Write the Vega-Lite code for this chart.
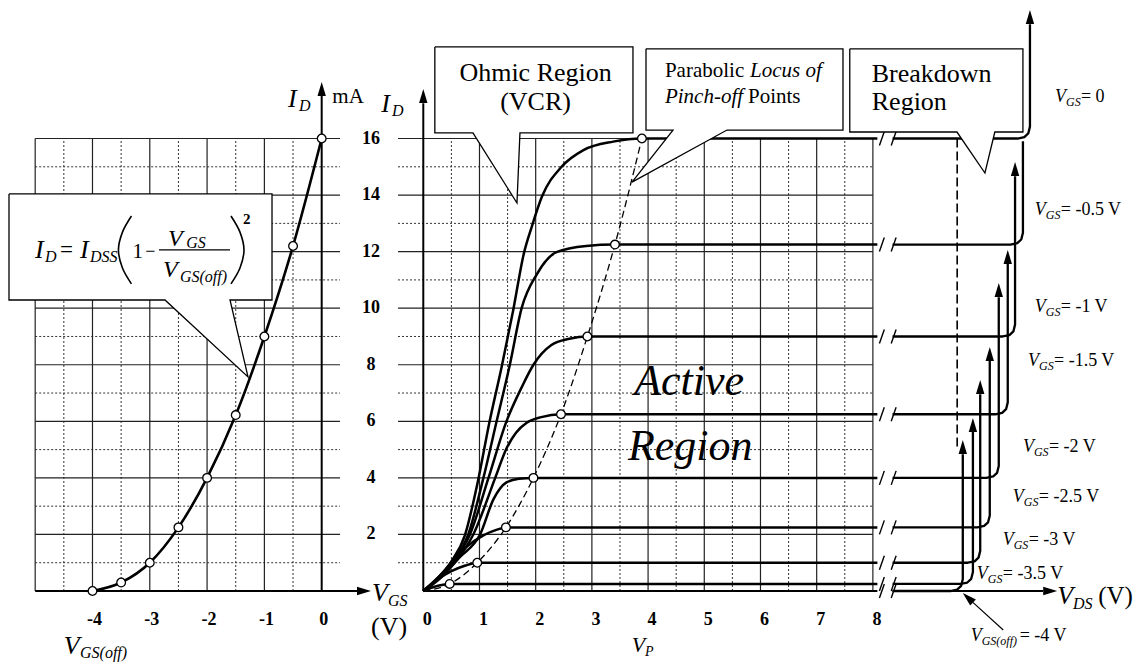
{
"$schema":"https://vega.github.io/schema/vega-lite/v6.json",
"width":1136,"height":664,"autosize":{"type":"none"},"padding":0,"background":"white",
"config":{"view":{"stroke":null},"text":{"font":"Liberation Serif","color":"#000"}},
"datasets":{
"lgvMinor":[{"v":-4.5},{"v":-3.5},{"v":-2.5},{"v":-1.5},{"v":-0.5}],
"lgvMajor":[{"v":-5},{"v":-4},{"v":-3},{"v":-2},{"v":-1}],
"ghMinor":[{"v":1},{"v":3},{"v":5},{"v":7},{"v":9},{"v":11},{"v":13},{"v":15}],
"ghMajor":[{"v":2},{"v":4},{"v":6},{"v":8},{"v":10},{"v":12},{"v":14},{"v":16}],
"rgvMinor":[{"v":0.5},{"v":1.5},{"v":2.5},{"v":3.5},{"v":4.5},{"v":5.5},{"v":6.5},{"v":7.5}],
"rgvMajor":[{"v":1},{"v":2},{"v":3},{"v":4},{"v":5},{"v":6},{"v":7},{"v":8}],
"lTicks":[{"vgs":-4,"t":"-4"},{"vgs":-3,"t":"-3"},{"vgs":-2,"t":"-2"},{"vgs":-1,"t":"-1"},{"vgs":0,"t":"0"}],
"rTicks":[{"vds":0,"t":"0"},{"vds":1,"t":"1"},{"vds":2,"t":"2"},{"vds":3,"t":"3"},{"vds":4,"t":"4"},{"vds":5,"t":"5"},{"vds":6,"t":"6"},{"vds":7,"t":"7"},{"vds":8,"t":"8"}],
"yTicks":[{"id":2,"t":"2"},{"id":4,"t":"4"},{"id":6,"t":"6"},{"id":8,"t":"8"},{"id":10,"t":"10"},{"id":12,"t":"12"},{"id":14,"t":"14"},{"id":16,"t":"16"}],
"transfer":[{"vgs":-4,"id":0},{"vgs":-3.5,"id":0.3},{"vgs":-3,"id":1},{"vgs":-2.5,"id":2.25},{"vgs":-2,"id":4},{"vgs":-1.5,"id":6.22},{"vgs":-1,"id":9},{"vgs":-0.5,"id":12.2},{"vgs":0,"id":16}],
"lcall":[{"o":1,"vgs":-5.457,"id":14.04},{"o":2,"vgs":-0.867,"id":14.04},{"o":3,"vgs":-0.867,"id":10.29},{"o":4,"vgs":-1.6,"id":10.29},{"o":5,"vgs":-1.286,"id":7.57},{"o":6,"vgs":-2.735,"id":10.29},{"o":7,"vgs":-5.457,"id":10.29},{"o":8,"vgs":-5.457,"id":14.04}],
"laxis":[{"vgs":-5,"vgs2":0.616,"id":0,"id2":0},{"vgs":0,"vgs2":0,"id":0,"id2":17.5}],
"parens":[{"p":"L","o":1,"vgs":-3.32,"id":13.26},{"p":"L","o":2,"vgs":-3.477,"id":12.69},{"p":"L","o":3,"vgs":-3.547,"id":12.06},{"p":"L","o":4,"vgs":-3.477,"id":11.42},{"p":"L","o":5,"vgs":-3.32,"id":10.86},{"p":"R","o":1,"vgs":-1.583,"id":13.26},{"p":"R","o":2,"vgs":-1.426,"id":12.69},{"p":"R","o":3,"vgs":-1.356,"id":12.06},{"p":"R","o":4,"vgs":-1.426,"id":11.42},{"p":"R","o":5,"vgs":-1.583,"id":10.86}],
"drain":[
{"g":"0","vds":0,"id":0},{"g":"0","vds":0.25,"id":0.45},{"g":"0","vds":0.5,"id":1.05},{"g":"0","vds":0.74,"id":1.97},{"g":"0","vds":0.98,"id":3.96},{"g":"0","vds":1.175,"id":5.95},{"g":"0","vds":1.395,"id":7.93},{"g":"0","vds":1.6,"id":9.93},{"g":"0","vds":1.79,"id":11.94},{"g":"0","vds":1.93,"id":12.88},{"g":"0","vds":2.11,"id":13.94},{"g":"0","vds":2.46,"id":15.0},{"g":"0","vds":2.85,"id":15.59},{"g":"0","vds":3.38,"id":15.89},{"g":"0","vds":3.89,"id":16},{"g":"0","vds":8.08,"id":16},
{"g":"-0.5","vds":0,"id":0},{"g":"-0.5","vds":0.25,"id":0.42},{"g":"-0.5","vds":0.5,"id":1.0},{"g":"-0.5","vds":0.8,"id":2},{"g":"-0.5","vds":1.07,"id":4},{"g":"-0.5","vds":1.305,"id":6},{"g":"-0.5","vds":1.54,"id":8},{"g":"-0.5","vds":1.75,"id":10},{"g":"-0.5","vds":2.02,"id":11.2},{"g":"-0.5","vds":2.37,"id":11.98},{"g":"-0.5","vds":2.9,"id":12.2},{"g":"-0.5","vds":3.41,"id":12.25},{"g":"-0.5","vds":8.08,"id":12.25},
{"g":"-1","vds":0,"id":0},{"g":"-1","vds":0.25,"id":0.4},{"g":"-1","vds":0.5,"id":0.95},{"g":"-1","vds":0.83,"id":2},{"g":"-1","vds":1.16,"id":4},{"g":"-1","vds":1.48,"id":6},{"g":"-1","vds":1.75,"id":7.2},{"g":"-1","vds":1.96,"id":8.0},{"g":"-1","vds":2.28,"id":8.7},{"g":"-1","vds":2.6,"id":8.92},{"g":"-1","vds":2.92,"id":9},{"g":"-1","vds":8.08,"id":9},
{"g":"-1.5","vds":0,"id":0},{"g":"-1.5","vds":0.3,"id":0.45},{"g":"-1.5","vds":0.6,"id":1.1},{"g":"-1.5","vds":0.89,"id":2},{"g":"-1.5","vds":1.28,"id":4},{"g":"-1.5","vds":1.48,"id":5.04},{"g":"-1.5","vds":1.65,"id":5.6},{"g":"-1.5","vds":1.84,"id":5.95},{"g":"-1.5","vds":2.1,"id":6.15},{"g":"-1.5","vds":2.45,"id":6.25},{"g":"-1.5","vds":8.08,"id":6.25},
{"g":"-2","vds":0,"id":0},{"g":"-2","vds":0.3,"id":0.5},{"g":"-2","vds":0.65,"id":1.2},{"g":"-2","vds":1.01,"id":2},{"g":"-2","vds":1.25,"id":3.25},{"g":"-2","vds":1.48,"id":3.84},{"g":"-2","vds":1.7,"id":3.97},{"g":"-2","vds":1.96,"id":4},{"g":"-2","vds":8.08,"id":4},
{"g":"-2.5","vds":0,"id":0},{"g":"-2.5","vds":0.3,"id":0.55},{"g":"-2.5","vds":0.55,"id":1.1},{"g":"-2.5","vds":0.77,"id":1.56},{"g":"-2.5","vds":1.07,"id":1.97},{"g":"-2.5","vds":1.3,"id":2.16},{"g":"-2.5","vds":1.47,"id":2.25},{"g":"-2.5","vds":8.08,"id":2.25},
{"g":"-3","vds":0,"id":0},{"g":"-3","vds":0.25,"id":0.4},{"g":"-3","vds":0.5,"id":0.7},{"g":"-3","vds":0.75,"id":0.9},{"g":"-3","vds":0.96,"id":1},{"g":"-3","vds":8.08,"id":1},
{"g":"-3.5","vds":0,"id":0},{"g":"-3.5","vds":0.2,"id":0.15},{"g":"-3.5","vds":0.47,"id":0.25},{"g":"-3.5","vds":8.08,"id":0.25}],
"bkd":[
{"g":"0","o":1,"vds":8.35,"id":16},{"g":"0","o":2,"vds":10.575,"id":16},{"g":"0","o":3,"vds":10.695,"id":16.05},{"g":"0","o":4,"vds":10.765,"id":16.18},{"g":"0","o":5,"vds":10.795,"id":16.42},{"g":"0","o":6,"vds":10.795,"id":20.04},
{"g":"-0.5","o":1,"vds":8.35,"id":12.25},{"g":"-0.5","o":2,"vds":10.45,"id":12.25},{"g":"-0.5","o":3,"vds":10.57,"id":12.3},{"g":"-0.5","o":4,"vds":10.64,"id":12.43},{"g":"-0.5","o":5,"vds":10.67,"id":12.67},{"g":"-0.5","o":6,"vds":10.67,"id":15.9},
{"g":"-1","o":1,"vds":8.35,"id":9},{"g":"-1","o":2,"vds":10.31,"id":9},{"g":"-1","o":3,"vds":10.43,"id":9.05},{"g":"-1","o":4,"vds":10.5,"id":9.18},{"g":"-1","o":5,"vds":10.53,"id":9.42},{"g":"-1","o":6,"vds":10.53,"id":14.67},
{"g":"-1.5","o":1,"vds":8.35,"id":6.25},{"g":"-1.5","o":2,"vds":10.18,"id":6.25},{"g":"-1.5","o":3,"vds":10.3,"id":6.3},{"g":"-1.5","o":4,"vds":10.37,"id":6.43},{"g":"-1.5","o":5,"vds":10.4,"id":6.67},{"g":"-1.5","o":6,"vds":10.4,"id":11.56},
{"g":"-2","o":1,"vds":8.35,"id":4},{"g":"-2","o":2,"vds":10.02,"id":4},{"g":"-2","o":3,"vds":10.14,"id":4.05},{"g":"-2","o":4,"vds":10.21,"id":4.18},{"g":"-2","o":5,"vds":10.24,"id":4.42},{"g":"-2","o":6,"vds":10.24,"id":10.39},
{"g":"-2.5","o":1,"vds":8.35,"id":2.25},{"g":"-2.5","o":2,"vds":9.86,"id":2.25},{"g":"-2.5","o":3,"vds":9.98,"id":2.3},{"g":"-2.5","o":4,"vds":10.05,"id":2.43},{"g":"-2.5","o":5,"vds":10.08,"id":2.67},{"g":"-2.5","o":6,"vds":10.08,"id":8.13},
{"g":"-3","o":1,"vds":8.35,"id":1},{"g":"-3","o":2,"vds":9.69,"id":1},{"g":"-3","o":3,"vds":9.81,"id":1.05},{"g":"-3","o":4,"vds":9.88,"id":1.18},{"g":"-3","o":5,"vds":9.91,"id":1.42},{"g":"-3","o":6,"vds":9.91,"id":6.96},
{"g":"-3.5","o":1,"vds":8.35,"id":0.25},{"g":"-3.5","o":2,"vds":9.56,"id":0.25},{"g":"-3.5","o":3,"vds":9.68,"id":0.3},{"g":"-3.5","o":4,"vds":9.75,"id":0.43},{"g":"-3.5","o":5,"vds":9.78,"id":0.67},{"g":"-3.5","o":6,"vds":9.78,"id":5.62},
{"g":"-4","o":1,"vds":8.35,"id":0},{"g":"-4","o":2,"vds":9.38,"id":0},{"g":"-4","o":3,"vds":9.5,"id":0.05},{"g":"-4","o":4,"vds":9.57,"id":0.18},{"g":"-4","o":5,"vds":9.6,"id":0.42},{"g":"-4","o":6,"vds":9.6,"id":4.84}],
"rArrUp":[{"vds":10.795,"id":20.54},{"vds":10.53,"id":15.17},{"vds":10.4,"id":12.06},{"vds":10.24,"id":10.89},{"vds":10.08,"id":8.63},{"vds":9.91,"id":7.46},{"vds":9.78,"id":6.12},{"vds":9.6,"id":5.34},{"vds":0,"id":17.75}],
"pinch":[{"vds":0.47,"id":0.25},{"vds":0.96,"id":1},{"vds":1.47,"id":2.25},{"vds":1.96,"id":4},{"vds":2.45,"id":6.25},{"vds":2.92,"id":9},{"vds":3.41,"id":12.25},{"vds":3.89,"id":16}],
"locus":[{"vds":0,"id":0},{"vds":0.47,"id":0.25},{"vds":0.96,"id":1},{"vds":1.47,"id":2.25},{"vds":1.96,"id":4},{"vds":2.45,"id":6.25},{"vds":2.92,"id":9},{"vds":3.41,"id":12.25},{"vds":3.89,"id":16}],
"levels":[{"id":16},{"id":12.25},{"id":9},{"id":6.25},{"id":4},{"id":2.25},{"id":1},{"id":0.25},{"id":0}],
"rcall":[
{"b":"ohm","o":1,"vds":0.2055,"id":19.24},{"b":"ohm","o":2,"vds":3.731,"id":19.24},{"b":"ohm","o":3,"vds":3.731,"id":16.2},{"b":"ohm","o":4,"vds":1.72,"id":16.2},{"b":"ohm","o":5,"vds":1.667,"id":13.72},{"b":"ohm","o":6,"vds":0.884,"id":16.2},{"b":"ohm","o":7,"vds":0.2055,"id":16.2},{"b":"ohm","o":8,"vds":0.2055,"id":19.24},
{"b":"par","o":1,"vds":3.963,"id":19.17},{"b":"par","o":2,"vds":7.468,"id":19.17},{"b":"par","o":3,"vds":7.468,"id":16.3},{"b":"par","o":4,"vds":5.404,"id":16.3},{"b":"par","o":5,"vds":3.714,"id":14.46},{"b":"par","o":6,"vds":4.443,"id":16.3},{"b":"par","o":7,"vds":3.963,"id":16.3},{"b":"par","o":8,"vds":3.963,"id":19.17},
{"b":"brk","o":1,"vds":7.589,"id":19.17},{"b":"brk","o":2,"vds":10.67,"id":19.17},{"b":"brk","o":3,"vds":10.67,"id":16.23},{"b":"brk","o":4,"vds":10.17,"id":16.23},{"b":"brk","o":5,"vds":9.994,"id":14.78},{"b":"brk","o":6,"vds":9.496,"id":16.23},{"b":"brk","o":7,"vds":7.589,"id":16.23},{"b":"brk","o":8,"vds":7.589,"id":19.17}],
"rlab":[{"vds":11.24,"id":17.29,"t":"= 0"},{"vds":10.88,"id":13.3,"t":"= -0.5 V"},{"vds":10.88,"id":9.87,"t":"= -1 V"},{"vds":10.76,"id":7.96,"t":"= -1.5 V"},{"vds":10.67,"id":4.92,"t":"= -2 V"},{"vds":10.49,"id":3.15,"t":"= -2.5 V"},{"vds":10.31,"id":1.63,"t":"= -3 V"},{"vds":9.85,"id":0.42,"t":"= -3.5 V"}],
"rlabOff":[{"vds":9.74,"id":-1.77,"t":"= -4 V"}]
},
"layer":[
{"layer":[
{"data":{"name":"lgvMinor"},"mark":{"type":"rule","strokeDash":[2,2],"strokeWidth":1,"color":"#333"},
 "encoding":{"x":{"field":"v","type":"quantitative","scale":{"domain":[-5.614,14.211],"nice":false,"zero":false},"axis":null},
  "y":{"datum":0,"type":"quantitative","scale":{"domain":[-2.581,20.898],"nice":false,"zero":false},"axis":null},"y2":{"datum":16}}},
{"data":{"name":"ghMinor"},"mark":{"type":"rule","strokeDash":[2,2],"strokeWidth":1,"color":"#333"},
 "encoding":{"y":{"field":"v","type":"quantitative","scale":{"domain":[-2.581,20.898],"nice":false,"zero":false},"axis":null},
  "x":{"datum":-5,"type":"quantitative","scale":{"domain":[-5.614,14.211],"nice":false,"zero":false},"axis":null},"x2":{"datum":0.32}}},
{"data":{"name":"lgvMajor"},"mark":{"type":"rule","strokeWidth":1.2,"color":"#222"},
 "encoding":{"x":{"field":"v","type":"quantitative","scale":{"domain":[-5.614,14.211],"nice":false,"zero":false},"axis":null},
  "y":{"datum":0,"type":"quantitative","scale":{"domain":[-2.581,20.898],"nice":false,"zero":false},"axis":null},"y2":{"datum":16}}},
{"data":{"name":"ghMajor"},"mark":{"type":"rule","strokeWidth":1.2,"color":"#222"},
 "encoding":{"y":{"field":"v","type":"quantitative","scale":{"domain":[-2.581,20.898],"nice":false,"zero":false},"axis":null},
  "x":{"datum":-5,"type":"quantitative","scale":{"domain":[-5.614,14.211],"nice":false,"zero":false},"axis":null},"x2":{"datum":0.32}}},
{"data":{"name":"laxis"},"mark":{"type":"rule","strokeWidth":2,"color":"#000"},
 "encoding":{"x":{"field":"vgs","type":"quantitative","scale":{"domain":[-5.614,14.211],"nice":false,"zero":false},"axis":null},"x2":{"field":"vgs2"},
  "y":{"field":"id","type":"quantitative","scale":{"domain":[-2.581,20.898],"nice":false,"zero":false},"axis":null},"y2":{"field":"id2"}}},
{"data":{"name":"transfer"},"mark":{"type":"line","interpolate":"monotone","strokeWidth":2.6,"color":"#000"},
 "encoding":{"x":{"field":"vgs","type":"quantitative","scale":{"domain":[-5.614,14.211],"nice":false,"zero":false},"axis":null},
  "y":{"field":"id","type":"quantitative","scale":{"domain":[-2.581,20.898],"nice":false,"zero":false},"axis":null}}},
{"data":{"name":"transfer"},"mark":{"type":"point","shape":"circle","filled":true,"fill":"white","stroke":"#000","strokeWidth":1.3,"size":75,"opacity":1},
 "encoding":{"x":{"field":"vgs","type":"quantitative","scale":{"domain":[-5.614,14.211],"nice":false,"zero":false},"axis":null},
  "y":{"field":"id","type":"quantitative","scale":{"domain":[-2.581,20.898],"nice":false,"zero":false},"axis":null}}},
{"data":{"name":"lcall"},"mark":{"type":"line","fill":"white","stroke":"#000","strokeWidth":1.3,"strokeJoin":"miter"},
 "encoding":{"x":{"field":"vgs","type":"quantitative","scale":{"domain":[-5.614,14.211],"nice":false,"zero":false},"axis":null},
  "y":{"field":"id","type":"quantitative","scale":{"domain":[-2.581,20.898],"nice":false,"zero":false},"axis":null},"order":{"field":"o"}}},
{"data":{"values":[{"vgs":0,"id":18.0}]},"mark":{"type":"point","shape":"M0,0L0.6,2L-0.6,2Z","filled":true,"color":"#000","size":196,"opacity":1},
 "encoding":{"x":{"field":"vgs","type":"quantitative","scale":{"domain":[-5.614,14.211],"nice":false,"zero":false},"axis":null},
  "y":{"field":"id","type":"quantitative","scale":{"domain":[-2.581,20.898],"nice":false,"zero":false},"axis":null}}},
{"data":{"values":[{"vgs":0.86,"id":0}]},"mark":{"type":"point","shape":"M0,0L-2,-0.6L-2,0.6Z","filled":true,"color":"#000","size":196,"opacity":1},
 "encoding":{"x":{"field":"vgs","type":"quantitative","scale":{"domain":[-5.614,14.211],"nice":false,"zero":false},"axis":null},
  "y":{"field":"id","type":"quantitative","scale":{"domain":[-2.581,20.898],"nice":false,"zero":false},"axis":null}}},
{"data":{"name":"parens"},"mark":{"type":"line","interpolate":"cardinal","strokeWidth":1.6,"color":"#000"},
 "encoding":{"x":{"field":"vgs","type":"quantitative","scale":{"domain":[-5.614,14.211],"nice":false,"zero":false},"axis":null},
  "y":{"field":"id","type":"quantitative","scale":{"domain":[-2.581,20.898],"nice":false,"zero":false},"axis":null},"order":{"field":"o"},"detail":{"field":"p"}}},
{"data":{"values":[{"vgs":-2.84,"vgs2":-1.6,"id":12.06}]},"mark":{"type":"rule","strokeWidth":1.3,"color":"#000"},
 "encoding":{"x":{"field":"vgs","type":"quantitative","scale":{"domain":[-5.614,14.211],"nice":false,"zero":false},"axis":null},"x2":{"field":"vgs2"},
  "y":{"field":"id","type":"quantitative","scale":{"domain":[-2.581,20.898],"nice":false,"zero":false},"axis":null}}},
{"data":{"name":"lTicks"},"mark":{"type":"text","font":"Liberation Serif","fontSize":18,"fontWeight":"bold","align":"center","baseline":"middle","color":"#000","dx":2},
 "encoding":{"x":{"field":"vgs","type":"quantitative","scale":{"domain":[-5.614,14.211],"nice":false,"zero":false},"axis":null},
  "y":{"datum":-1.025,"type":"quantitative","scale":{"domain":[-2.581,20.898],"nice":false,"zero":false},"axis":null},"text":{"field":"t"}}},
{"data":{"values":[{"vgs":-5.004,"id":11.775,"t":"I"},{"vgs":-4.218,"id":11.775,"t":"I"},{"vgs":0.88,"id":-0.35,"t":"V"},{"vgs":-4.5,"id":-2.23,"t":"V"},{"vgs":-0.59,"id":17.11,"t":"I"}]},
 "mark":{"type":"text","font":"Liberation Serif","fontSize":26,"fontStyle":"italic","align":"left","baseline":"alphabetic","color":"#000"},
 "encoding":{"x":{"field":"vgs","type":"quantitative","scale":{"domain":[-5.614,14.211],"nice":false,"zero":false},"axis":null},
  "y":{"field":"id","type":"quantitative","scale":{"domain":[-2.581,20.898],"nice":false,"zero":false},"axis":null},"text":{"field":"t"}}},
{"data":{"values":[{"vgs":-2.682,"id":12.2,"t":"V"},{"vgs":-2.77,"id":11.1,"t":"V"}]},
 "mark":{"type":"text","font":"Liberation Serif","fontSize":24,"fontStyle":"italic","align":"left","baseline":"alphabetic","color":"#000"},
 "encoding":{"x":{"field":"vgs","type":"quantitative","scale":{"domain":[-5.614,14.211],"nice":false,"zero":false},"axis":null},
  "y":{"field":"id","type":"quantitative","scale":{"domain":[-2.581,20.898],"nice":false,"zero":false},"axis":null},"text":{"field":"t"}}},
{"data":{"values":[{"vgs":-4.83,"id":11.63,"t":"D"},{"vgs":-4.044,"id":11.63,"t":"DSS"},{"vgs":-2.365,"id":12.13,"t":"GS"},{"vgs":-2.473,"id":10.93,"t":"GS(off)"},{"vgs":1.157,"id":-0.527,"t":"GS"},{"vgs":-4.218,"id":-2.37,"t":"GS(off)"},{"vgs":-0.396,"id":16.97,"t":"D"}]},
 "mark":{"type":"text","font":"Liberation Serif","fontSize":16,"fontStyle":"italic","align":"left","baseline":"alphabetic","color":"#000"},
 "encoding":{"x":{"field":"vgs","type":"quantitative","scale":{"domain":[-5.614,14.211],"nice":false,"zero":false},"axis":null},
  "y":{"field":"id","type":"quantitative","scale":{"domain":[-2.581,20.898],"nice":false,"zero":false},"axis":null},"text":{"field":"t"}}},
{"data":{"values":[{"vgs":-4.567,"id":11.81,"t":"="}]},
 "mark":{"type":"text","font":"Liberation Serif","fontSize":23,"align":"left","baseline":"alphabetic","color":"#000"},
 "encoding":{"x":{"field":"vgs","type":"quantitative","scale":{"domain":[-5.614,14.211],"nice":false,"zero":false},"axis":null},
  "y":{"field":"id","type":"quantitative","scale":{"domain":[-2.581,20.898],"nice":false,"zero":false},"axis":null},"text":{"field":"t"}}},
{"data":{"values":[{"vgs":-3.3,"id":11.775,"t":"1"}]},
 "mark":{"type":"text","font":"Liberation Serif","fontSize":21,"align":"left","baseline":"alphabetic","color":"#000"},
 "encoding":{"x":{"field":"vgs","type":"quantitative","scale":{"domain":[-5.614,14.211],"nice":false,"zero":false},"axis":null},
  "y":{"field":"id","type":"quantitative","scale":{"domain":[-2.581,20.898],"nice":false,"zero":false},"axis":null},"text":{"field":"t"}}},
{"data":{"values":[{"vgs":-3.08,"id":11.82,"t":"−"}]},
 "mark":{"type":"text","font":"Liberation Serif","fontSize":18,"align":"left","baseline":"alphabetic","color":"#000"},
 "encoding":{"x":{"field":"vgs","type":"quantitative","scale":{"domain":[-5.614,14.211],"nice":false,"zero":false},"axis":null},
  "y":{"field":"id","type":"quantitative","scale":{"domain":[-2.581,20.898],"nice":false,"zero":false},"axis":null},"text":{"field":"t"}}},
{"data":{"values":[{"vgs":-1.374,"id":12.98,"t":"2"}]},
 "mark":{"type":"text","font":"Liberation Serif","fontSize":15,"fontWeight":"bold","align":"left","baseline":"alphabetic","color":"#000"},
 "encoding":{"x":{"field":"vgs","type":"quantitative","scale":{"domain":[-5.614,14.211],"nice":false,"zero":false},"axis":null},
  "y":{"field":"id","type":"quantitative","scale":{"domain":[-2.581,20.898],"nice":false,"zero":false},"axis":null},"text":{"field":"t"}}},
{"data":{"values":[{"vgs":1.175,"id":-1.56,"t":"(V)"}]},
 "mark":{"type":"text","font":"Liberation Serif","fontSize":26,"align":"center","baseline":"alphabetic","color":"#000"},
 "encoding":{"x":{"field":"vgs","type":"quantitative","scale":{"domain":[-5.614,14.211],"nice":false,"zero":false},"axis":null},
  "y":{"field":"id","type":"quantitative","scale":{"domain":[-2.581,20.898],"nice":false,"zero":false},"axis":null},"text":{"field":"t"}}},
{"data":{"values":[{"vgs":0.185,"id":17.26,"t":"mA"}]},
 "mark":{"type":"text","font":"Liberation Serif","fontSize":21,"align":"left","baseline":"alphabetic","color":"#000"},
 "encoding":{"x":{"field":"vgs","type":"quantitative","scale":{"domain":[-5.614,14.211],"nice":false,"zero":false},"axis":null},
  "y":{"field":"id","type":"quantitative","scale":{"domain":[-2.581,20.898],"nice":false,"zero":false},"axis":null},"text":{"field":"t"}}}
]},
{"layer":[
{"data":{"name":"rgvMinor"},"mark":{"type":"rule","strokeDash":[2,2],"strokeWidth":1,"color":"#333"},
 "encoding":{"x":{"field":"v","type":"quantitative","scale":{"domain":[-7.532,12.682],"nice":false,"zero":false},"axis":null},
  "y":{"datum":0,"type":"quantitative","scale":{"domain":[-2.581,20.898],"nice":false,"zero":false},"axis":null},"y2":{"datum":16}}},
{"data":{"name":"ghMinor"},"mark":{"type":"rule","strokeDash":[2,2],"strokeWidth":1,"color":"#333"},
 "encoding":{"y":{"field":"v","type":"quantitative","scale":{"domain":[-2.581,20.898],"nice":false,"zero":false},"axis":null},
  "x":{"datum":-0.45,"type":"quantitative","scale":{"domain":[-7.532,12.682],"nice":false,"zero":false},"axis":null},"x2":{"datum":8}}},
{"data":{"name":"rgvMajor"},"mark":{"type":"rule","strokeWidth":1.2,"color":"#222"},
 "encoding":{"x":{"field":"v","type":"quantitative","scale":{"domain":[-7.532,12.682],"nice":false,"zero":false},"axis":null},
  "y":{"datum":0,"type":"quantitative","scale":{"domain":[-2.581,20.898],"nice":false,"zero":false},"axis":null},"y2":{"datum":16}}},
{"data":{"name":"ghMajor"},"mark":{"type":"rule","strokeWidth":1.2,"color":"#222"},
 "encoding":{"y":{"field":"v","type":"quantitative","scale":{"domain":[-2.581,20.898],"nice":false,"zero":false},"axis":null},
  "x":{"datum":-0.45,"type":"quantitative","scale":{"domain":[-7.532,12.682],"nice":false,"zero":false},"axis":null},"x2":{"datum":8}}},
{"data":{"values":[{"vds":0,"vds2":8.08,"id":0,"id2":0},{"vds":8.35,"vds2":11.03,"id":0,"id2":0},{"vds":0,"vds2":0,"id":0,"id2":17.25}]},"mark":{"type":"rule","strokeWidth":2,"color":"#000"},
 "encoding":{"x":{"field":"vds","type":"quantitative","scale":{"domain":[-7.532,12.682],"nice":false,"zero":false},"axis":null},"x2":{"field":"vds2"},
  "y":{"field":"id","type":"quantitative","scale":{"domain":[-2.581,20.898],"nice":false,"zero":false},"axis":null},"y2":{"field":"id2"}}},
{"data":{"name":"locus"},"mark":{"type":"line","interpolate":"monotone","strokeWidth":1.3,"strokeDash":[7,4],"color":"#000"},
 "encoding":{"x":{"field":"vds","type":"quantitative","scale":{"domain":[-7.532,12.682],"nice":false,"zero":false},"axis":null},
  "y":{"field":"id","type":"quantitative","scale":{"domain":[-2.581,20.898],"nice":false,"zero":false},"axis":null}}},
{"data":{"name":"drain"},"mark":{"type":"line","interpolate":"monotone","strokeWidth":2.5,"color":"#000"},
 "encoding":{"x":{"field":"vds","type":"quantitative","scale":{"domain":[-7.532,12.682],"nice":false,"zero":false},"axis":null},
  "y":{"field":"id","type":"quantitative","scale":{"domain":[-2.581,20.898],"nice":false,"zero":false},"axis":null},"detail":{"field":"g"}}},
{"data":{"name":"bkd"},"mark":{"type":"line","strokeWidth":2.3,"color":"#000","strokeJoin":"round"},
 "encoding":{"x":{"field":"vds","type":"quantitative","scale":{"domain":[-7.532,12.682],"nice":false,"zero":false},"axis":null},
  "y":{"field":"id","type":"quantitative","scale":{"domain":[-2.581,20.898],"nice":false,"zero":false},"axis":null},"detail":{"field":"g"},"order":{"field":"o"}}},
{"data":{"values":[{"vds":9.5,"id":16,"id2":5.0}]},"mark":{"type":"rule","strokeWidth":1.6,"strokeDash":[9,4],"color":"#000"},
 "encoding":{"x":{"field":"vds","type":"quantitative","scale":{"domain":[-7.532,12.682],"nice":false,"zero":false},"axis":null},
  "y":{"field":"id","type":"quantitative","scale":{"domain":[-2.581,20.898],"nice":false,"zero":false},"axis":null},"y2":{"field":"id2"}}},
{"data":{"name":"levels"},"mark":{"type":"point","shape":"M-0.35,1L0.35,-1","filled":false,"stroke":"#000","strokeWidth":1.4,"size":196,"opacity":1},
 "encoding":{"x":{"datum":8.16,"type":"quantitative","scale":{"domain":[-7.532,12.682],"nice":false,"zero":false},"axis":null},
  "y":{"field":"id","type":"quantitative","scale":{"domain":[-2.581,20.898],"nice":false,"zero":false},"axis":null}}},
{"data":{"name":"levels"},"mark":{"type":"point","shape":"M-0.35,1L0.35,-1","filled":false,"stroke":"#000","strokeWidth":1.4,"size":196,"opacity":1},
 "encoding":{"x":{"datum":8.37,"type":"quantitative","scale":{"domain":[-7.532,12.682],"nice":false,"zero":false},"axis":null},
  "y":{"field":"id","type":"quantitative","scale":{"domain":[-2.581,20.898],"nice":false,"zero":false},"axis":null}}},
{"data":{"name":"rArrUp"},"mark":{"type":"point","shape":"M0,0L0.6,2L-0.6,2Z","filled":true,"color":"#000","size":196,"opacity":1},
 "encoding":{"x":{"field":"vds","type":"quantitative","scale":{"domain":[-7.532,12.682],"nice":false,"zero":false},"axis":null},
  "y":{"field":"id","type":"quantitative","scale":{"domain":[-2.581,20.898],"nice":false,"zero":false},"axis":null}}},
{"data":{"values":[{"vds":11.28,"id":0}]},"mark":{"type":"point","shape":"M0,0L-2,-0.6L-2,0.6Z","filled":true,"color":"#000","size":196,"opacity":1},
 "encoding":{"x":{"field":"vds","type":"quantitative","scale":{"domain":[-7.532,12.682],"nice":false,"zero":false},"axis":null},
  "y":{"field":"id","type":"quantitative","scale":{"domain":[-2.581,20.898],"nice":false,"zero":false},"axis":null}}},
{"data":{"name":"pinch"},"mark":{"type":"point","shape":"circle","filled":true,"fill":"white","stroke":"#000","strokeWidth":1.3,"size":75,"opacity":1},
 "encoding":{"x":{"field":"vds","type":"quantitative","scale":{"domain":[-7.532,12.682],"nice":false,"zero":false},"axis":null},
  "y":{"field":"id","type":"quantitative","scale":{"domain":[-2.581,20.898],"nice":false,"zero":false},"axis":null}}},
{"data":{"name":"rcall"},"mark":{"type":"line","fill":"white","stroke":"#000","strokeWidth":1.3,"strokeJoin":"miter"},
 "encoding":{"x":{"field":"vds","type":"quantitative","scale":{"domain":[-7.532,12.682],"nice":false,"zero":false},"axis":null},
  "y":{"field":"id","type":"quantitative","scale":{"domain":[-2.581,20.898],"nice":false,"zero":false},"axis":null},"detail":{"field":"b"},"order":{"field":"o"}}},
{"data":{"values":[{"vds":10.32,"id":-1.38,"vds2":9.78,"id2":-0.4}]},"mark":{"type":"rule","strokeWidth":1.2,"color":"#000"},
 "encoding":{"x":{"field":"vds","type":"quantitative","scale":{"domain":[-7.532,12.682],"nice":false,"zero":false},"axis":null},"x2":{"field":"vds2"},
  "y":{"field":"id","type":"quantitative","scale":{"domain":[-2.581,20.898],"nice":false,"zero":false},"axis":null},"y2":{"field":"id2"}}},
{"data":{"values":[{"vds":9.6,"id":-0.07}]},"mark":{"type":"point","shape":"M0,0L0.6,2L-0.6,2Z","filled":true,"color":"#000","size":196,"opacity":1,"angle":-47},
 "encoding":{"x":{"field":"vds","type":"quantitative","scale":{"domain":[-7.532,12.682],"nice":false,"zero":false},"axis":null},
  "y":{"field":"id","type":"quantitative","scale":{"domain":[-2.581,20.898],"nice":false,"zero":false},"axis":null}}},
{"data":{"name":"rTicks"},"mark":{"type":"text","font":"Liberation Serif","fontSize":18,"fontWeight":"bold","align":"center","baseline":"middle","color":"#000","dx":4},
 "encoding":{"x":{"field":"vds","type":"quantitative","scale":{"domain":[-7.532,12.682],"nice":false,"zero":false},"axis":null},
  "y":{"datum":-1.025,"type":"quantitative","scale":{"domain":[-2.581,20.898],"nice":false,"zero":false},"axis":null},"text":{"field":"t"}}},
{"data":{"name":"yTicks"},"mark":{"type":"text","font":"Liberation Serif","fontSize":18,"fontWeight":"bold","align":"center","baseline":"middle","color":"#000"},
 "encoding":{"x":{"datum":-0.93,"type":"quantitative","scale":{"domain":[-7.532,12.682],"nice":false,"zero":false},"axis":null},
  "y":{"field":"id","type":"quantitative","scale":{"domain":[-2.581,20.898],"nice":false,"zero":false},"axis":null},"text":{"field":"t"}}},
{"data":{"name":"rlab"},"mark":{"type":"text","font":"Liberation Serif","fontSize":18,"fontStyle":"italic","align":"left","baseline":"alphabetic","color":"#000","text":"V"},
 "encoding":{"x":{"field":"vds","type":"quantitative","scale":{"domain":[-7.532,12.682],"nice":false,"zero":false},"axis":null},
  "y":{"field":"id","type":"quantitative","scale":{"domain":[-2.581,20.898],"nice":false,"zero":false},"axis":null}}},
{"data":{"name":"rlab"},"mark":{"type":"text","font":"Liberation Serif","fontSize":12,"fontStyle":"italic","align":"left","baseline":"alphabetic","color":"#000","text":"GS","dx":11,"dy":4},
 "encoding":{"x":{"field":"vds","type":"quantitative","scale":{"domain":[-7.532,12.682],"nice":false,"zero":false},"axis":null},
  "y":{"field":"id","type":"quantitative","scale":{"domain":[-2.581,20.898],"nice":false,"zero":false},"axis":null}}},
{"data":{"name":"rlab"},"mark":{"type":"text","font":"Liberation Serif","fontSize":18,"align":"left","baseline":"alphabetic","color":"#000","dx":26},
 "encoding":{"x":{"field":"vds","type":"quantitative","scale":{"domain":[-7.532,12.682],"nice":false,"zero":false},"axis":null},
  "y":{"field":"id","type":"quantitative","scale":{"domain":[-2.581,20.898],"nice":false,"zero":false},"axis":null},"text":{"field":"t"}}},
{"data":{"name":"rlabOff"},"mark":{"type":"text","font":"Liberation Serif","fontSize":18,"fontStyle":"italic","align":"left","baseline":"alphabetic","color":"#000","text":"V"},
 "encoding":{"x":{"field":"vds","type":"quantitative","scale":{"domain":[-7.532,12.682],"nice":false,"zero":false},"axis":null},
  "y":{"field":"id","type":"quantitative","scale":{"domain":[-2.581,20.898],"nice":false,"zero":false},"axis":null}}},
{"data":{"name":"rlabOff"},"mark":{"type":"text","font":"Liberation Serif","fontSize":12,"fontStyle":"italic","align":"left","baseline":"alphabetic","color":"#000","text":"GS(off)","dx":11,"dy":4},
 "encoding":{"x":{"field":"vds","type":"quantitative","scale":{"domain":[-7.532,12.682],"nice":false,"zero":false},"axis":null},
  "y":{"field":"id","type":"quantitative","scale":{"domain":[-2.581,20.898],"nice":false,"zero":false},"axis":null}}},
{"data":{"name":"rlabOff"},"mark":{"type":"text","font":"Liberation Serif","fontSize":18,"align":"left","baseline":"alphabetic","color":"#000","dx":49},
 "encoding":{"x":{"field":"vds","type":"quantitative","scale":{"domain":[-7.532,12.682],"nice":false,"zero":false},"axis":null},
  "y":{"field":"id","type":"quantitative","scale":{"domain":[-2.581,20.898],"nice":false,"zero":false},"axis":null},"text":{"field":"t"}}},
{"data":{"values":[{"vds":-0.75,"id":16.94,"t":"I"},{"vds":11.28,"id":-0.46,"t":"V"}]},
 "mark":{"type":"text","font":"Liberation Serif","fontSize":26,"fontStyle":"italic","align":"left","baseline":"alphabetic","color":"#000"},
 "encoding":{"x":{"field":"vds","type":"quantitative","scale":{"domain":[-7.532,12.682],"nice":false,"zero":false},"axis":null},
  "y":{"field":"id","type":"quantitative","scale":{"domain":[-2.581,20.898],"nice":false,"zero":false},"axis":null},"text":{"field":"t"}}},
{"data":{"values":[{"vds":-0.557,"id":16.8,"t":"D"},{"vds":11.56,"id":-0.64,"t":"DS"}]},
 "mark":{"type":"text","font":"Liberation Serif","fontSize":16,"fontStyle":"italic","align":"left","baseline":"alphabetic","color":"#000"},
 "encoding":{"x":{"field":"vds","type":"quantitative","scale":{"domain":[-7.532,12.682],"nice":false,"zero":false},"axis":null},
  "y":{"field":"id","type":"quantitative","scale":{"domain":[-2.581,20.898],"nice":false,"zero":false},"axis":null},"text":{"field":"t"}}},
{"data":{"values":[{"vds":12.01,"id":-0.46,"t":"(V)"}]},
 "mark":{"type":"text","font":"Liberation Serif","fontSize":25,"align":"left","baseline":"alphabetic","color":"#000"},
 "encoding":{"x":{"field":"vds","type":"quantitative","scale":{"domain":[-7.532,12.682],"nice":false,"zero":false},"axis":null},
  "y":{"field":"id","type":"quantitative","scale":{"domain":[-2.581,20.898],"nice":false,"zero":false},"axis":null},"text":{"field":"t"}}},
{"data":{"values":[{"vds":3.71,"id":-2.16,"t":"V"}]},
 "mark":{"type":"text","font":"Liberation Serif","fontSize":22,"fontStyle":"italic","align":"left","baseline":"alphabetic","color":"#000"},
 "encoding":{"x":{"field":"vds","type":"quantitative","scale":{"domain":[-7.532,12.682],"nice":false,"zero":false},"axis":null},
  "y":{"field":"id","type":"quantitative","scale":{"domain":[-2.581,20.898],"nice":false,"zero":false},"axis":null},"text":{"field":"t"}}},
{"data":{"values":[{"vds":3.945,"id":-2.3,"t":"P"}]},
 "mark":{"type":"text","font":"Liberation Serif","fontSize":14,"fontStyle":"italic","align":"left","baseline":"alphabetic","color":"#000"},
 "encoding":{"x":{"field":"vds","type":"quantitative","scale":{"domain":[-7.532,12.682],"nice":false,"zero":false},"axis":null},
  "y":{"field":"id","type":"quantitative","scale":{"domain":[-2.581,20.898],"nice":false,"zero":false},"axis":null},"text":{"field":"t"}}},
{"data":{"values":[{"vds":1.998,"id":18.03,"t":"Ohmic Region"},{"vds":1.998,"id":17.01,"t":"(VCR)"}]},
 "mark":{"type":"text","font":"Liberation Serif","fontSize":26,"align":"center","baseline":"alphabetic","color":"#000"},
 "encoding":{"x":{"field":"vds","type":"quantitative","scale":{"domain":[-7.532,12.682],"nice":false,"zero":false},"axis":null},
  "y":{"field":"id","type":"quantitative","scale":{"domain":[-2.581,20.898],"nice":false,"zero":false},"axis":null},"text":{"field":"t"}}},
{"data":{"values":[{"vds":7.98,"id":18.0,"t":"Breakdown"},{"vds":7.98,"id":17.0,"t":"Region"}]},
 "mark":{"type":"text","font":"Liberation Serif","fontSize":26,"align":"left","baseline":"alphabetic","color":"#000"},
 "encoding":{"x":{"field":"vds","type":"quantitative","scale":{"domain":[-7.532,12.682],"nice":false,"zero":false},"axis":null},
  "y":{"field":"id","type":"quantitative","scale":{"domain":[-2.581,20.898],"nice":false,"zero":false},"axis":null},"text":{"field":"t"}}},
{"data":{"values":[{"vds":4.3,"id":18.18,"t":"Parabolic"},{"vds":5.777,"id":17.26,"t":"Points"}]},
 "mark":{"type":"text","font":"Liberation Serif","fontSize":21,"align":"left","baseline":"alphabetic","color":"#000"},
 "encoding":{"x":{"field":"vds","type":"quantitative","scale":{"domain":[-7.532,12.682],"nice":false,"zero":false},"axis":null},
  "y":{"field":"id","type":"quantitative","scale":{"domain":[-2.581,20.898],"nice":false,"zero":false},"axis":null},"text":{"field":"t"}}},
{"data":{"values":[{"vds":5.813,"id":18.18,"t":"Locus of"},{"vds":4.3,"id":17.26,"t":"Pinch-off"}]},
 "mark":{"type":"text","font":"Liberation Serif","fontSize":21,"fontStyle":"italic","align":"left","baseline":"alphabetic","color":"#000"},
 "encoding":{"x":{"field":"vds","type":"quantitative","scale":{"domain":[-7.532,12.682],"nice":false,"zero":false},"axis":null},
  "y":{"field":"id","type":"quantitative","scale":{"domain":[-2.581,20.898],"nice":false,"zero":false},"axis":null},"text":{"field":"t"}}},
{"data":{"values":[{"vds":4.73,"id":6.93,"t":"Active"},{"vds":4.75,"id":4.63,"t":"Region"}]},
 "mark":{"type":"text","font":"Liberation Serif","fontSize":44,"fontStyle":"italic","align":"center","baseline":"alphabetic","color":"#000"},
 "encoding":{"x":{"field":"vds","type":"quantitative","scale":{"domain":[-7.532,12.682],"nice":false,"zero":false},"axis":null},
  "y":{"field":"id","type":"quantitative","scale":{"domain":[-2.581,20.898],"nice":false,"zero":false},"axis":null},"text":{"field":"t"}}}
]}
],
"resolve":{"scale":{"x":"independent"}}
}
